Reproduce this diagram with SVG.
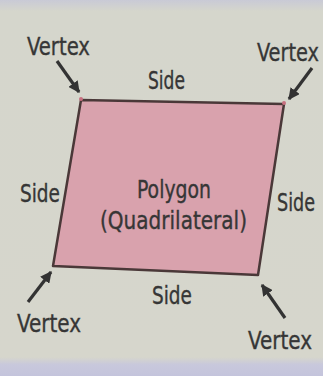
<svg xmlns="http://www.w3.org/2000/svg" width="323" height="376" viewBox="0 0 323 376">
<defs>
<linearGradient id="bg" x1="0" y1="0" x2="0" y2="1">
<stop offset="0" stop-color="#c9cad6"/>
<stop offset="0.03" stop-color="#d5d6cc"/>
<stop offset="0.95" stop-color="#d6d6cc"/>
<stop offset="0.97" stop-color="#c8c8dc"/>
<stop offset="1" stop-color="#c4c4dc"/>
</linearGradient>
<marker id="ah" viewBox="0 0 10 10" refX="9" refY="5" markerWidth="3.6" markerHeight="3.6" orient="auto" markerUnits="strokeWidth">
<path d="M0,0 L10,5 L0,10 z" fill="#333333"/>
</marker>
<style>
.t{font-family:"DejaVu Sans","Liberation Sans",sans-serif;font-stretch:condensed;font-size:21px;fill:#363636;stroke:#363636;stroke-width:0.3}
.a{stroke:#333333;stroke-width:3.2;fill:none;marker-end:url(#ah)}
</style>
</defs>
<rect width="323" height="376" fill="url(#bg)"/>
<g id="polygon">
<polygon points="81,100 284,104 258,275 53,266" fill="#d9a2ad" stroke="#4a3838" stroke-width="2.5" stroke-linejoin="round"/>
<circle cx="81" cy="99" r="2" fill="#c87080"/>
<circle cx="284" cy="103" r="2" fill="#c87080"/>
<text class="t" transform="translate(137,198) scale(1,1.2)" textLength="74" lengthAdjust="spacingAndGlyphs">Polygon</text>
<text class="t" transform="translate(100,229) scale(1,1.2)" textLength="147" lengthAdjust="spacingAndGlyphs">(Quadrilateral)</text>
</g>
<g id="labels">
<text class="t" transform="translate(27,55) scale(1,1.2)" textLength="63" lengthAdjust="spacingAndGlyphs">Vertex</text>
<text class="t" transform="translate(257,61) scale(1,1.2)" textLength="62" lengthAdjust="spacingAndGlyphs">Vertex</text>
<text class="t" transform="translate(148,89) scale(1,1.2)" textLength="37" lengthAdjust="spacingAndGlyphs">Side</text>
<text class="t" transform="translate(20,202) scale(1,1.2)" textLength="40" lengthAdjust="spacingAndGlyphs">Side</text>
<text class="t" transform="translate(277,211) scale(1,1.2)" textLength="38" lengthAdjust="spacingAndGlyphs">Side</text>
<text class="t" transform="translate(152,304) scale(1,1.2)" textLength="40" lengthAdjust="spacingAndGlyphs">Side</text>
<text class="t" transform="translate(17,332) scale(1,1.2)" textLength="64" lengthAdjust="spacingAndGlyphs">Vertex</text>
<text class="t" transform="translate(248,349) scale(1,1.2)" textLength="64" lengthAdjust="spacingAndGlyphs">Vertex</text>
</g>
<g id="connectors">
<line class="a" x1="57" y1="61" x2="79" y2="92"/>
<line class="a" x1="312" y1="68" x2="289" y2="99"/>
<line class="a" x1="28" y1="302" x2="51" y2="272"/>
<line class="a" x1="285" y1="318" x2="262" y2="285"/>
</g>
</svg>
